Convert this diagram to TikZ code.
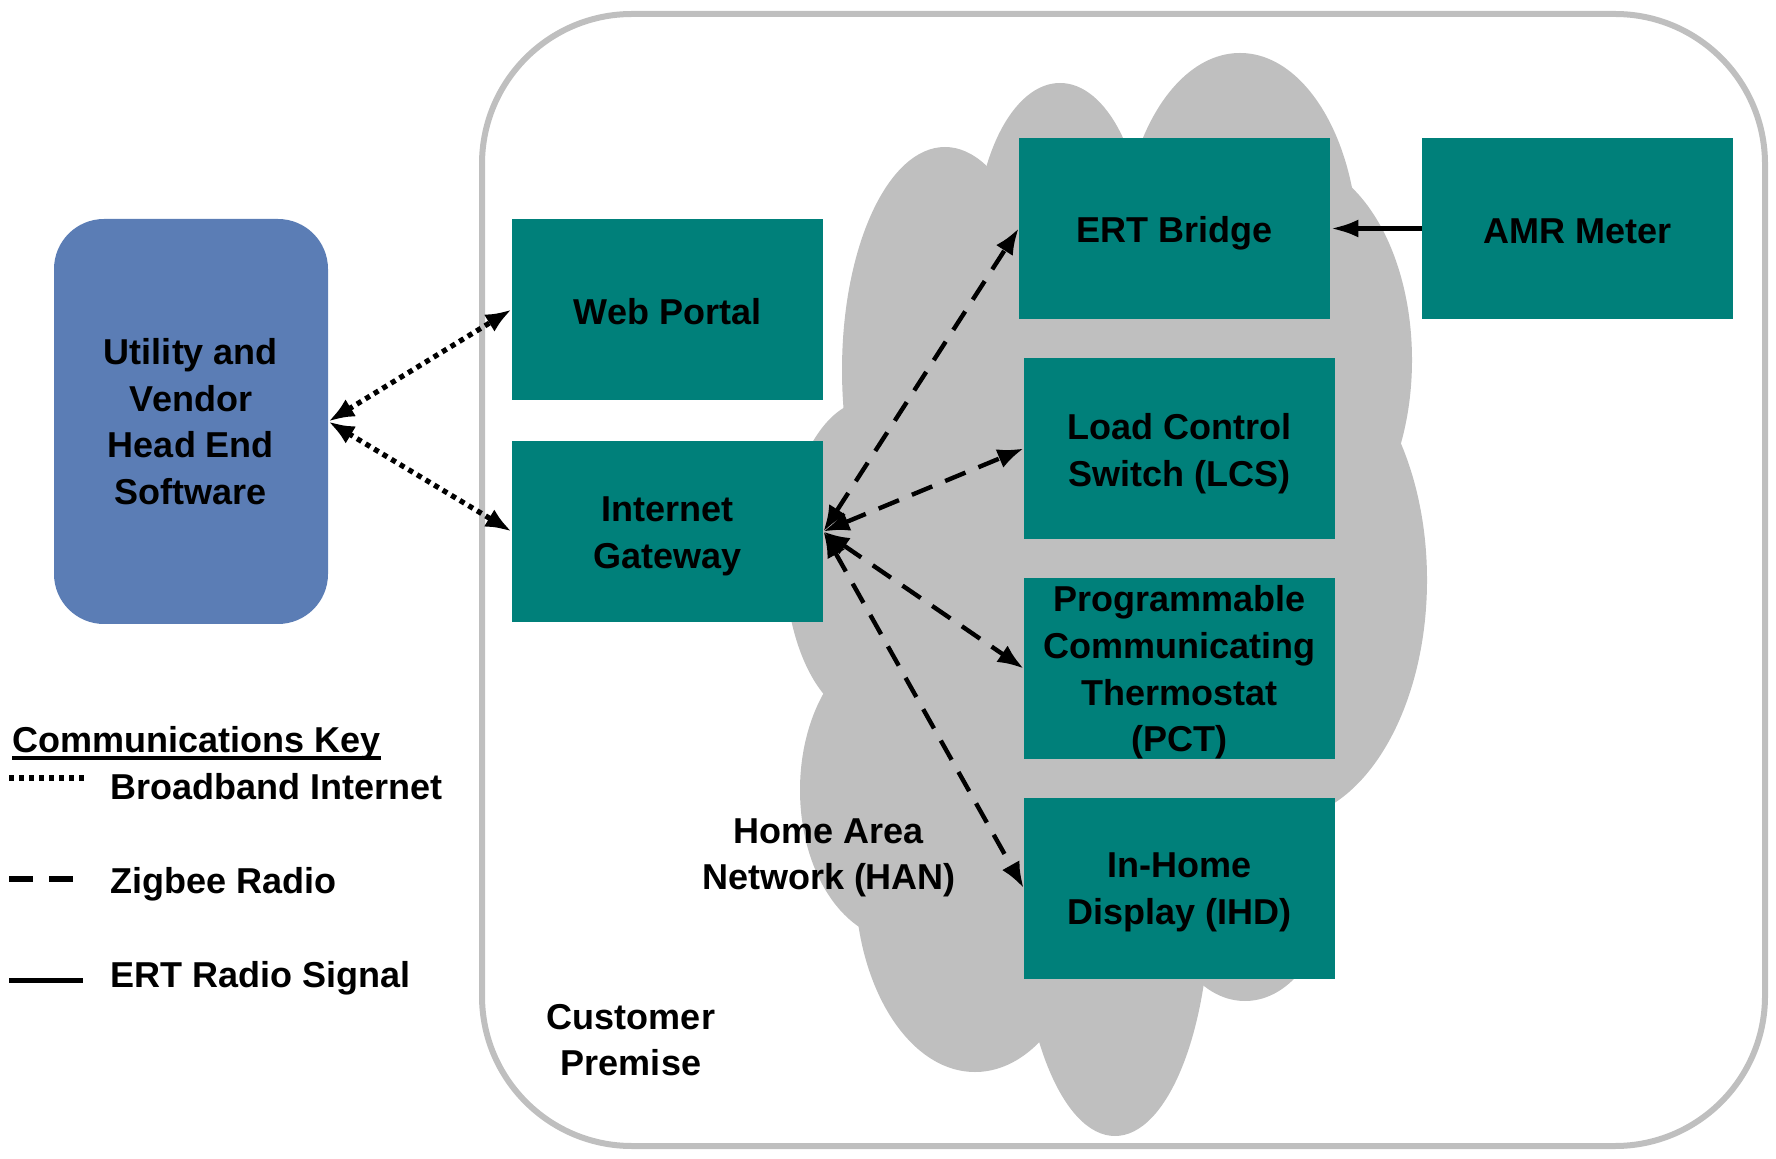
\documentclass[tikz,border=0pt]{standalone}
\usepackage{fontspec}
\setmainfont{Liberation Sans}
\usetikzlibrary{arrows.meta}
\definecolor{boxteal}{RGB}{0,128,122}
\definecolor{boxblue}{RGB}{91,125,181}
\definecolor{cloudgray}{RGB}{191,191,191}
\begin{document}
\begin{tikzpicture}[x=0.5pt,y=-0.5pt,
  every node/.style={font=\fontsize{18}{23.3}\selectfont\bfseries, align=center, inner sep=0pt},
  box/.style={fill=boxteal, minimum width=155.5pt, minimum height=90.5pt},
  headend/.style={fill=boxblue, rounded corners=25pt, minimum width=137pt, minimum height=202.5pt},
  lobe/.style={fill=cloudgray},
  bbline/.style={line width=2.6pt, dash pattern=on 2.6pt off 2.4pt},
  zbline/.style={line width=2.2pt, dash pattern=on 11pt off 7pt},
  ertline/.style={line width=2.5pt},
  bbarrow/.style={bbline, {Latex[length=13pt,width=10pt]}-{Latex[length=13pt,width=10pt]}},
  zbarrow/.style={zbline, {Latex[length=13pt,width=10pt]}-{Latex[length=13pt,width=10pt]}},
  ertarrow/.style={ertline, -{Latex[length=14pt,width=9pt]}}]

\useasboundingbox (0,0) rectangle (1776,1159);

% customer premise frame
\draw[cloudgray, line width=3pt, rounded corners=75pt] (482,14) rectangle (1765,1146);

% HAN cloud
\fill[lobe] (1130,560) ellipse [x radius=125pt, y radius=200pt];
\fill[lobe] (1060,250) ellipse [x radius=42.5pt, y radius=83.5pt];
\fill[lobe] (1240,250) ellipse [x radius=59pt, y radius=98.5pt];
\fill[lobe] (945,370) ellipse [x radius=51.5pt, y radius=111.5pt];
\fill[lobe] (870,560) ellipse [x radius=42.5pt, y radius=80pt];
\fill[lobe] (900,790) ellipse [x radius=50pt, y radius=75pt];
\fill[lobe] (975,880) ellipse [x radius=60pt, y radius=96pt];
\fill[lobe] (1115,900) ellipse [x radius=47.5pt, y radius=118pt];
\fill[lobe] (1245,880) ellipse [x radius=42.5pt, y radius=60.5pt];
\fill[lobe] (1280,580) ellipse [x radius=73.5pt, y radius=120pt];
\fill[lobe] (1290,360) ellipse [x radius=61pt, y radius=100pt];

% boxes
\node[headend] (util) at (191,421.5) {Utility and\\Vendor\\Head End\\Software};
\node[box] (web) at (667.5,309.5) {};
\node[box] (gw) at (667.5,531.5) {};
\node[box] (ert) at (1174.5,228.5) {};
\node[box] (amr) at (1577.5,228.5) {};
\node[box] (lcs) at (1179.5,448.5) {};
\node[box] (pct) at (1179.5,668.5) {};
\node[box] (ihd) at (1179.5,888) {};

% box texts
\node (web-t) at ([yshift=-1.2pt]web.center) {Web Portal};
\node (gw-t) at ([yshift=-2.5pt]gw.center) {Internet\\Gateway};
\node (ert-t) at ([yshift=-2.6pt]ert.center) {ERT Bridge};
\node (amr-t) at ([yshift=-1.2pt]amr.center) {AMR Meter};
\node (lcs-t) at ([yshift=-2.5pt]lcs.center) {Load Control\\Switch (LCS)};
\node (pct-t) at ([yshift=-2pt]pct.center) {Programmable\\Communicating\\Thermostat\\(PCT)};
\node (ihd-t) at ([yshift=-2.2pt]ihd.center) {In-Home\\Display (IHD)};

% labels
\node (han) at (829,858) {Home Area\\Network (HAN)};
\node (prem) at (631,1040) {Customer\\Premise};

% connectors
\draw[bbarrow] (util.east) -- (web.west);
\draw[bbarrow] (util.east) -- (gw.west);
\draw[zbarrow] (gw.east) -- (ert.west);
\draw[zbarrow] (gw.east) -- (lcs.west);
\draw[zbarrow] (gw.east) -- (pct.west);
\draw[zbarrow] (gw.east) -- (ihd.west);
\draw[ertarrow] (amr.west) -- (ert.east);

% communications key
\node[anchor=base west] (keytitle) at (12,752) {Communications Key};
\draw[line width=1.6pt] ([yshift=-3pt]keytitle.base west) -- ([yshift=-3pt]keytitle.base east);
\node[anchor=base west] (k1) at (110,799) {Broadband Internet};
\node[anchor=base west] (k2) at (110,893) {Zigbee Radio};
\node[anchor=base west] (k3) at (110,987) {ERT Radio Signal};
\coordinate (s1a) at (9,778); \coordinate (s1b) at (84,778);
\coordinate (s2a) at (9,879); \coordinate (s2b) at (73,879);
\coordinate (s3a) at (9,980); \coordinate (s3b) at (83,980);
\draw[bbline, line width=3pt] (s1a) -- (s1b);
\draw[line width=2.6pt, dash pattern=on 12pt off 8pt] (s2a) -- (s2b);
\draw[ertline] (s3a) -- (s3b);
\end{tikzpicture}
\end{document}
